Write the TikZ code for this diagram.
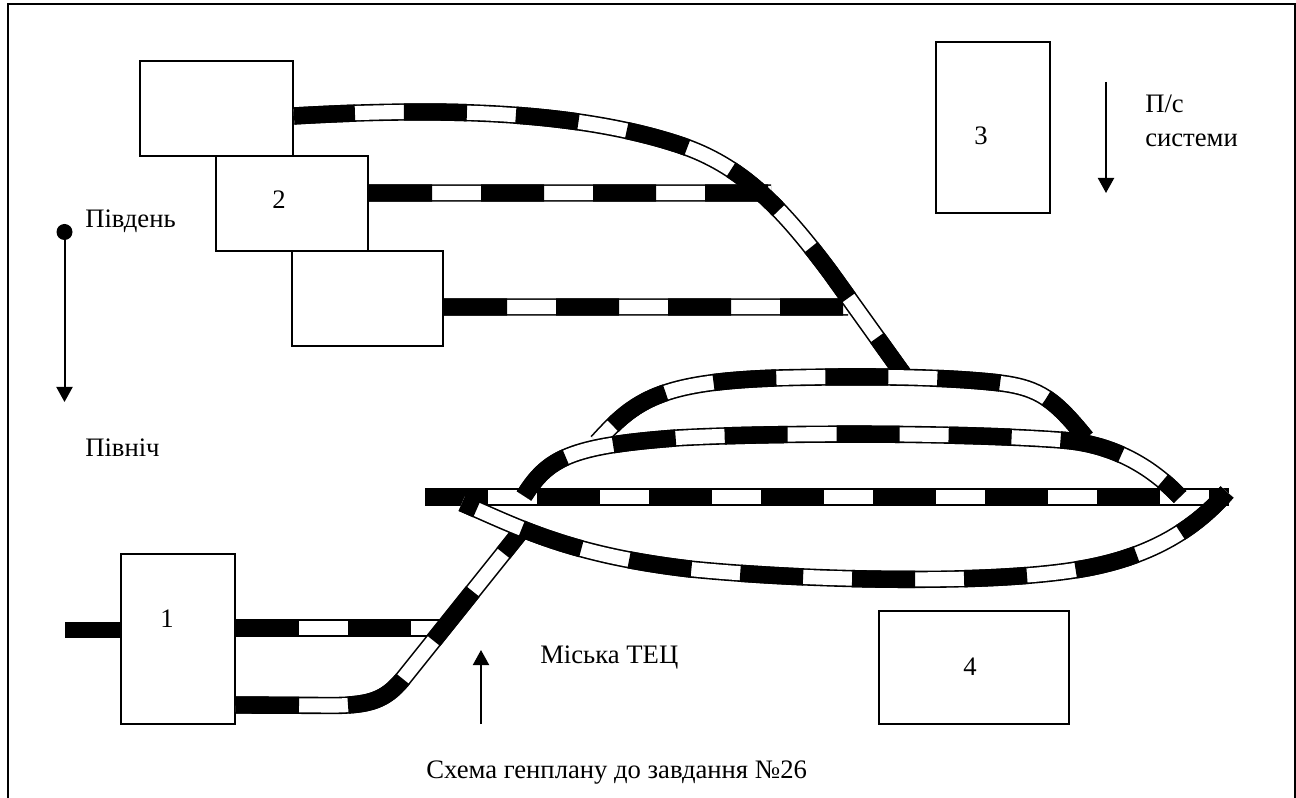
\documentclass[tikz,border=0pt]{standalone}
\usepackage{fontspec}
\setmainfont{Liberation Serif}
\usetikzlibrary{arrows.meta}
\newcommand{\railtrack}[2]{%
	\draw[railbed] #2;
	\draw[railgap] #2;
	\draw[raildash, dash phase=#1] #2;
}
\begin{document}
\begin{tikzpicture}[x=0.75pt,y=-0.75pt,
	square/.style={rectangle, draw=black, line width=1.5pt, inner sep=0pt, fill=white},
	railbed/.style={line width=13pt, black},
	railgap/.style={line width=10.6pt, white},
	raildash/.style={line width=13pt, black, dash pattern=on 47.25pt off 36.75pt},
	thinarrow/.style={line width=1.5pt, -{Triangle[length=11.25pt, width=12pt]}},
	label/.style={inner sep=0pt, anchor=base west, font=\fontsize{20}{24}\selectfont}]
	\useasboundingbox (0,0) rectangle (1296,798);

	%Frame
	\draw[line width=1.5pt] (7.5,798) -- (7.5,4.5) -- (1295,4.5) -- (1295,798);

	%Nodes
	\node[square, minimum width=114.75pt, minimum height=71.25pt]	(boxa)	at (216.5,108.5) {};
	\node[square, minimum width=114pt, minimum height=71.25pt]	(boxb)	at (292,203.5) {};
	\node[square, minimum width=113.25pt, minimum height=71.25pt]	(boxc)	at (367.5,298.5) {};
	\node[square, minimum width=85.5pt, minimum height=128.25pt]	(boxthree)	at (993,127.5) {};
	\node[square, minimum width=85.5pt, minimum height=127.5pt]	(boxone)	at (178,639) {};
	\node[square, minimum width=142.5pt, minimum height=84.75pt]	(boxfour)	at (974,667.5) {};

	%Labels
	\node[label] (two)	at (272,209) {2};
	\node[label] (three)	at (974,145) {3};
	\node[label] (one)	at (160,627) {1};
	\node[label] (four)	at (963,675) {4};
	\node[label] (south)	at (85,228) {Південь};
	\node[label] (north)	at (85,456) {Північ};
	\node[label] (plant)	at (540,663) {Міська ТЕЦ};
	\node[label] (systemtop)	at (1145,113) {П/с};
	\node[label] (systembot)	at (1145,147) {системи};
	\node[label] (title)	at (426,778) {Схема генплану до завдання №26};

	%Coordinates
	\coordinate (a1) at ([yshift=-5.6pt]boxa.east);
	\coordinate (b1) at ([yshift=7.9pt]boxb.east);
	\coordinate (c1) at ([yshift=-6.4pt]boxc.east);
	\coordinate (d1) at ([yshift=8.25pt]boxone.east);
	\coordinate (d2) at ([yshift=-49.5pt]boxone.east);
	\coordinate (feedin) at (65,630);
	\coordinate (feedout) at ([yshift=6.75pt]boxone.west);
	\coordinate (dotsouth) at (64.5,232);
	\coordinate (tipnorth) at (64.5,402);
	\coordinate (tailsys) at (1106,82);
	\coordinate (tipsys) at (1106,193);
	\coordinate (tailplant) at (481,724);
	\coordinate (tipplant) at (481,650);

	%Tracks
	\draw[line width=12pt] (feedin) -- (feedout);
	\railtrack{0pt}{(b1) -- (771,193)}
	\railtrack{0pt}{(c1) -- (848,307)}
	\railtrack{1.5pt}{(a1) .. controls (400,110) and (560,105) .. (680,145) .. controls (740,165) and (780,205) .. (830,272) -- (906,378)}
	\railtrack{67pt}{(597,442) .. controls (635,400) and (660,382) .. (776,378) .. controls (850,376) and (940,376) .. (1000,383) .. controls (1040,388) and (1055,400) .. (1086,438)}
	\railtrack{0pt}{(425,497) -- (1229,497)}
	\railtrack{3.75pt}{(524,496) .. controls (548,458) and (570,446) .. (676,438) .. controls (760,433) and (950,432) .. (1060,440) .. controls (1110,443) and (1150,465) .. (1180,497)}
	\railtrack{0pt}{(d1) -- (445,628)}
	\railtrack{0pt}{(d2) -- (335,705.5) .. controls (370,705) and (385,700) .. (402,680) -- (522,530)}
	\railtrack{35.25pt}{(462,503) .. controls (520,528) and (570,555) .. (690,569) .. controls (800,580) and (980,585) .. (1075,570) .. controls (1140,560) and (1190,535) .. (1227,492)}

	%Arrows
	\fill (dotsouth) circle (6pt);
	\draw[thinarrow] (dotsouth) -- (tipnorth);
	\draw[thinarrow] (tailsys) -- (tipsys);
	\draw[thinarrow] (tailplant) -- (tipplant);
\end{tikzpicture}
\end{document}
